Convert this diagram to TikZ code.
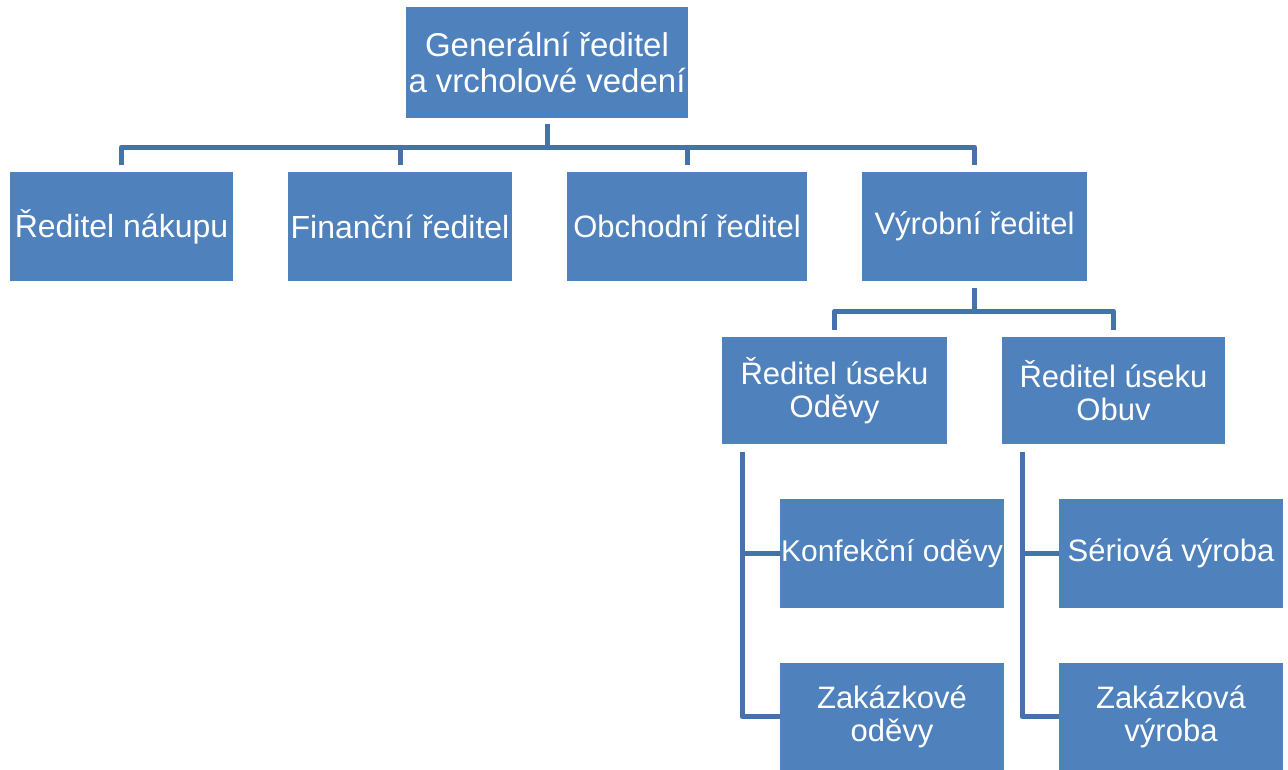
\documentclass[tikz,border=0pt]{standalone}
\usepackage{fontspec}
\setmainfont{Liberation Sans}
\definecolor{boxblue}{RGB}{79,129,189}
\definecolor{lineblue}{RGB}{70,114,170}
\begin{document}
\begin{tikzpicture}[x=1pt,y=-1pt,
  box/.style={fill=boxblue, draw=none, inner sep=0pt, outer sep=0pt, text=white, align=center,
    font=\fontsize{31}{33}\selectfont},
  conn/.style={draw=lineblue, line width=5pt, line join=round}]
\useasboundingbox (0,0) rectangle (1288,769);
\node[box, font=\fontsize{33}{36}\selectfont, minimum width=282pt, minimum height=111pt] (top) at (547,62.5) {Generální ředitel\\a vrcholové vedení};
\node[box, font=\fontsize{32}{34}\selectfont, minimum width=223pt, minimum height=109pt] (n1) at (121.5,226.5) {Ředitel nákupu};
\node[box, font=\fontsize{32}{34}\selectfont, minimum width=224pt, minimum height=109pt] (n2) at (400,226.5) {Finanční ředitel};
\node[box, minimum width=240pt, minimum height=109pt] (n3) at (687,226.5) {Obchodní ředitel};
\node[box, minimum width=225pt, minimum height=109pt] (n4) at (974.5,226.5) {Výrobní ředitel};
\node[box, minimum width=225pt, minimum height=107pt] (o1) at (834.5,390.5) {Ředitel úseku\\Oděvy};
\node[box, minimum width=223pt, minimum height=107pt] (o2) at (1113.5,390.5) {Ředitel úseku\\Obuv};
\node[box, font=\fontsize{30}{33}\selectfont, minimum width=224pt, minimum height=109pt] (k1) at (892,553.5) {Konfekční oděvy};
\node[box, minimum width=224pt, minimum height=107pt] (k2) at (892,716.5) {Zakázkové\\oděvy};
\node[box, minimum width=224pt, minimum height=109pt] (s1) at (1171,553.5) {Sériová výroba};
\node[box, minimum width=224pt, minimum height=107pt] (s2) at (1171,716.5) {Zakázková\\výroba};
% bus coordinates
\coordinate (bus1) at (547,147);
\coordinate (bus2) at (974.5,311);
% top connectors
\foreach \c in {n1,n2,n3,n4}{
  \draw[conn] ([yshift=-6pt]top.south) -- (bus1) -| ([yshift=7pt]\c.north);
}
% Výrobní connectors
\foreach \c in {o1,o2}{
  \draw[conn] ([yshift=-7pt]n4.south) -- (bus2) -| ([yshift=7pt]\c.north);
}
% rails
\draw[conn] ([xshift=20pt,yshift=-8pt]o1.south west) |- (k1.west);
\draw[conn] ([xshift=20pt,yshift=-8pt]o1.south west) |- (k2.west);
\draw[conn] ([xshift=20pt,yshift=-8pt]o2.south west) |- (s1.west);
\draw[conn] ([xshift=20pt,yshift=-8pt]o2.south west) |- (s2.west);
\end{tikzpicture}
\end{document}
